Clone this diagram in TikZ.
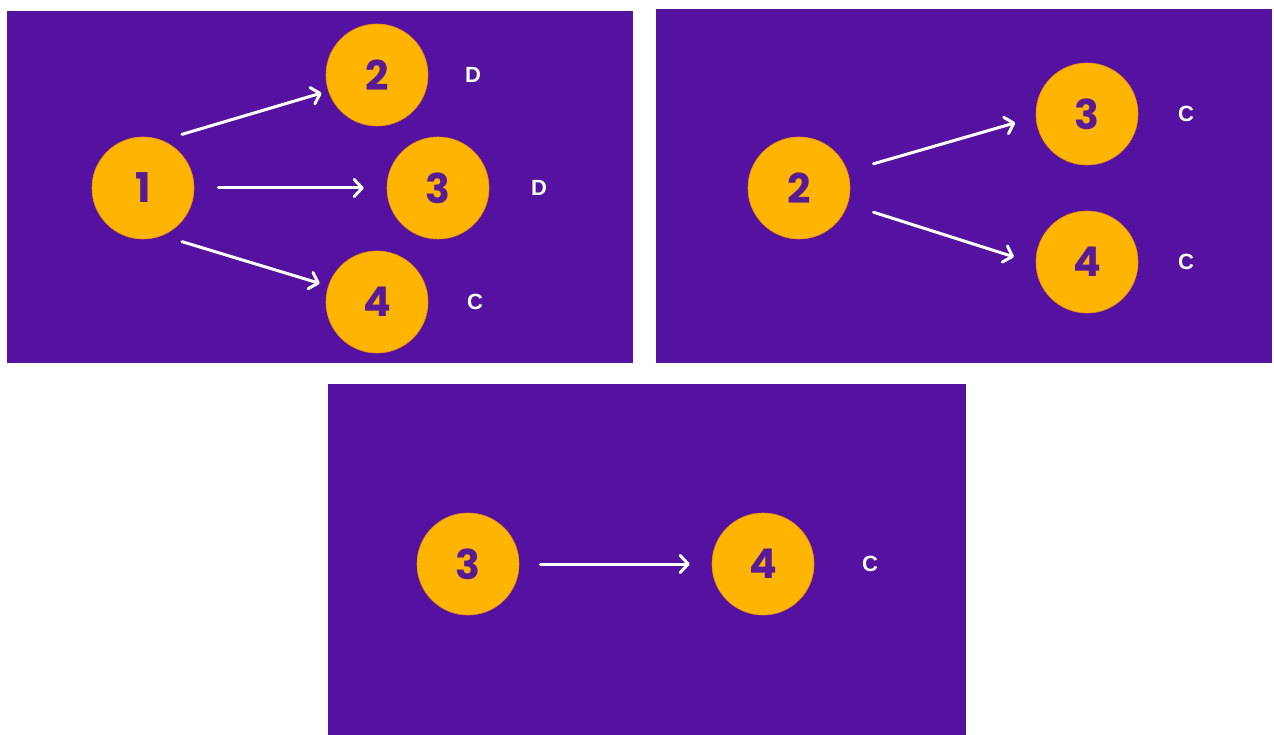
\documentclass[tikz,border=0pt]{standalone}
\usepackage{fontspec}
\usetikzlibrary{arrows.meta}
\newfontfamily\digitfont{Poppins}
\newfontfamily\labelfont{Liberation Sans}
\definecolor{bgpurple}{RGB}{85,17,160}
\definecolor{ballorange}{RGB}{255,180,0}
\definecolor{ballrim}{RGB}{235,150,10}
\definecolor{digitpurple}{RGB}{88,26,150}
\tikzset{
  panel/.style={fill=bgpurple},
  ball/.style={circle, minimum size=102pt, inner sep=0pt, fill=ballorange,
    draw=ballrim, line width=0.6pt, text=digitpurple,
    font=\digitfont\bfseries\fontsize{41}{41}\selectfont},
  tag/.style={text=white, inner sep=0pt,
    font=\labelfont\bfseries\fontsize{22}{22}\selectfont},
  link/.style={draw=white, line width=3pt, line cap=round,
    -{Straight Barb[round, length=8pt, width=17pt]}}
}
\begin{document}
\begin{tikzpicture}[x=1pt, y=1pt]
  \useasboundingbox (0,0) rectangle (1274,-735);
  \fill[white] (0,0) rectangle (1274,-735);

  % top-left: vertex 1 and its neighbours
  \fill[panel] (7,-11) rectangle (633,-363);
  \node[ball] (a1) at (143,-188) {1};
  \node[ball] (a2) at (377,-75) {2};
  \node[ball] (a3) at (438,-188) {3};
  \node[ball] (a4) at (377,-302) {4};
  \node[tag] (ta2) at (473,-75) {D};
  \node[tag] (ta3) at (539,-188) {D};
  \node[tag] (ta4) at (475,-302) {C};
  \draw[link] ([shift={(54:15pt)}]a1.54) -- ([shift={(198:7pt)}]a2.198);
  \draw[link, shorten <=24pt, shorten >=23pt] (a1.east) -- (a3.west);
  \draw[link] ([shift={(-54:15pt)}]a1.-54) -- ([shift={(162:9pt)}]a4.162);

  % top-right: vertex 2 and its neighbours
  \fill[panel] (656,-9) rectangle (1272,-363);
  \node[ball] (b2) at (799,-188) {2};
  \node[ball] (b3) at (1087,-114) {3};
  \node[ball] (b4) at (1087,-262) {4};
  \node[tag] (tb3) at (1186,-114) {C};
  \node[tag] (tb4) at (1186,-262) {C};
  \draw[link] ([shift={(18:27pt)}]b2.18) -- ([shift={(187:21pt)}]b3.187);
  \draw[link] ([shift={(-18:27pt)}]b2.-18) -- ([shift={(176:22pt)}]b4.176);

  % bottom: vertex 3 and its neighbour
  \fill[panel] (328,-384) rectangle (966,-735);
  \node[ball] (c3) at (468,-564) {3};
  \node[ball] (c4) at (763,-564) {4};
  \node[tag] (tc4) at (870,-564) {C};
  \draw[link, shorten <=21pt, shorten >=22pt] (c3.east) -- (c4.west);
\end{tikzpicture}
\end{document}
